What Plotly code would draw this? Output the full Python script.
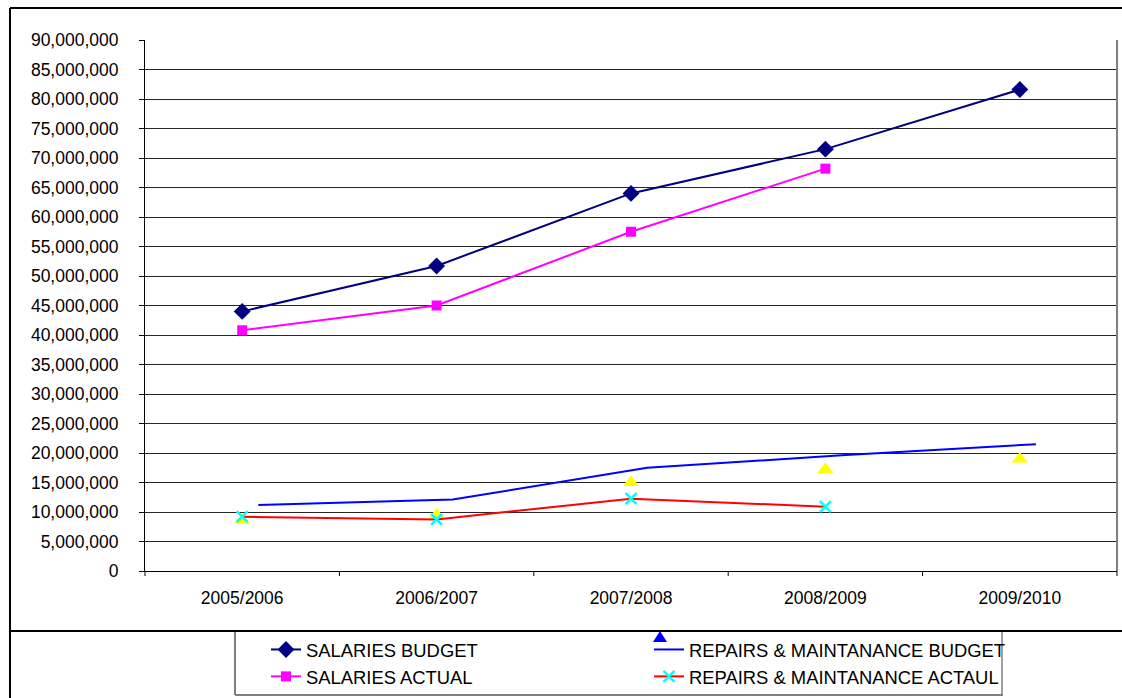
import plotly.graph_objects as go

# Financial years on the category axis
years = ["2005/2006", "2006/2007", "2007/2008", "2008/2009", "2009/2010"]

salaries_budget = [44_000_000, 51_700_000, 64_000_000, 71_500_000, 81_600_000]
salaries_actual = [40_800_000, 45_000_000, 57_500_000, 68_200_000]
repairs_budget_line = [11_200_000, 12_100_000, 17_500_000, 19_600_000, 21_500_000]
repairs_budget_pts = [8_600_000, 9_500_000, 15_000_000, 17_200_000, 19_000_000]
repairs_actual = [9_200_000, 8_750_000, 12_250_000, 10_900_000]

y_ticks = list(range(0, 90_000_001, 5_000_000))

W, H = 1122, 698
ML, MR, MT, MB = 145, 5, 40, 127
PW, PH = W - ML - MR, H - MT - MB
FONT = "Liberation Sans, Arial, sans-serif"
FS = 17.5
LEG_FS = 18.4

xi = list(range(len(years)))
line_shift = 0.083  # the budget line sits slightly right of the category centres


def px(x, y):
    """Figure pixel position -> paper coordinates."""
    return (x - ML) / PW, (H - MB - y) / PH


fig = go.Figure()

fig.add_trace(go.Scatter(
    x=xi, y=salaries_budget, name="SALARIES BUDGET", mode="lines+markers",
    legendrank=1,
    line=dict(color="#000080", width=2),
    marker=dict(symbol="diamond", size=13, color="#000080"),
))
fig.add_trace(go.Scatter(
    x=xi[:len(salaries_actual)], y=salaries_actual, name="SALARIES ACTUAL",
    mode="lines+markers", legendrank=3,
    line=dict(color="#FF00FF", width=2),
    marker=dict(symbol="square", size=10, color="#FF00FF"),
))
fig.add_trace(go.Scatter(
    x=xi, y=repairs_budget_pts, name="REPAIRS & MAINTANANCE BUDGET",
    mode="markers", showlegend=False,
    marker=dict(symbol="triangle-up", size=14, color="#FFFF00"),
))
fig.add_trace(go.Scatter(
    x=[i + line_shift for i in xi], y=repairs_budget_line,
    name="REPAIRS & MAINTANANCE BUDGET", mode="lines", legendrank=2,
    line=dict(color="#0000FF", width=2),
))
fig.add_trace(go.Scatter(
    x=xi[:len(repairs_actual)], y=repairs_actual,
    name="REPAIRS & MAINTANANCE ACTAUL", mode="lines+markers", legendrank=4,
    line=dict(color="#FF0000", width=2),
    marker=dict(symbol="x-thin", size=11, line=dict(color="#00FFFF", width=2.5)),
))

shapes = []


def seg(x0, y0, x1, y1, color="black", width=2):
    a, b = px(x0, y0)
    c, d = px(x1, y1)
    shapes.append(dict(type="line", xref="paper", yref="paper",
                       x0=a, y0=b, x1=c, y1=d,
                       line=dict(color=color, width=width)))


# outer frame and the divider above the legend
seg(10, 8, W, 8)
seg(10, 8, 10, H)
# legend box
seg(235, 631, 235, 695, width=1)
seg(1002, 631, 1002, 695, color="#404040", width=1)
seg(235, 695, 1003, 695, color="#808080", width=2)
seg(10, 631, W, 631)
# right edge of the plot area
seg(ML + PW, MT, ML + PW, MT + PH, color="#808080", width=2)
# category boundary tick marks
for k in range(len(years) + 1):
    xb = ML + k * PW / len(years)
    seg(xb, MT + PH, xb, MT + PH + 5, width=1)

# blue triangle glyph above the budget legend line
tx, ty = 660, 637
p1 = px(tx - 7, ty + 5)
p2 = px(tx + 7, ty + 5)
p3 = px(tx, ty - 6)
shapes.append(dict(
    type="path", xref="paper", yref="paper",
    path=f"M {p1[0]},{p1[1]} L {p2[0]},{p2[1]} L {p3[0]},{p3[1]} Z",
    fillcolor="#0000FF", line=dict(width=0),
))

lx, ly = px(266, 631)

fig.update_layout(
    width=W, height=H,
    margin=dict(l=ML, r=MR, t=MT, b=MB, autoexpand=False),
    paper_bgcolor="white", plot_bgcolor="white",
    font=dict(family=FONT, size=FS, color="black"),
    showlegend=True,
    legend=dict(
        orientation="h", x=lx, y=ly, xanchor="left", yanchor="top",
        entrywidth=338, entrywidthmode="pixels",
        borderwidth=0, bgcolor="rgba(0,0,0,0)",
        font=dict(family=FONT, size=LEG_FS, color="black"),
        traceorder="normal",
    ),
    shapes=shapes,
)

fig.update_xaxes(
    range=[-0.5, 4.5], tickmode="array", tickvals=xi, ticktext=years,
    ticks="", showgrid=False, zeroline=False,
    showline=True, linecolor="black", linewidth=1,
    ticklabelstandoff=11,
    tickfont=dict(family=FONT, size=FS, color="black"),
)
fig.update_yaxes(
    range=[0, 90_000_000], tickmode="array", tickvals=y_ticks,
    tickformat=",d", ticks="outside", ticklen=5, tickcolor="black",
    showgrid=True, gridcolor="#262626", gridwidth=1, zeroline=False,
    showline=True, linecolor="black", linewidth=1,
    ticklabelstandoff=17,
    tickfont=dict(family=FONT, size=FS, color="black"),
)

fig.write_html("out.html")
